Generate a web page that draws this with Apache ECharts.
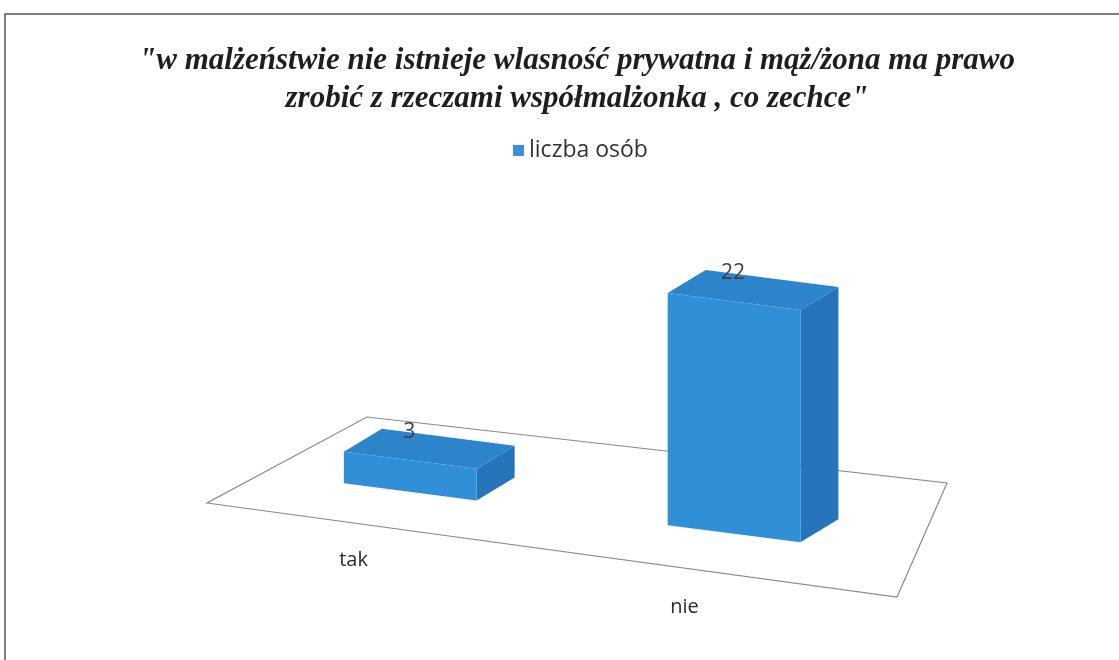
<!DOCTYPE html>
<html>
<head>
<meta charset="utf-8">
<script src="https://cdn.jsdelivr.net/npm/echarts@6/dist/echarts.min.js"></script>
<style>
  html, body { margin: 0; padding: 0; background: #fff; }
  #chart { width: 1119px; height: 660px; }
</style>
</head>
<body>
<div id="chart"></div>
<script>
// dane
const categories = ['tak', 'nie'];
const values = [3, 22];
const seriesName = 'liczba osób';

// podloga 3D (przod-lewo, przod-prawo, tyl-prawo, tyl-lewo)
const FL = [207, 503], FR = [897, 597], BR = [947, 483], BL = [367, 417];
const U0 = -0.0225, UW = 0.994;  // os x -> szerokosc podlogi
const DEPTH_V = 0.35;            // gdzie stoja slupki na podlodze
const BOX_D = [38, -23];         // glebokosc pudelka

function floorPt(u, v) {
    const fx = FL[0] + (FR[0] - FL[0]) * u, fy = FL[1] + (FR[1] - FL[1]) * u;
    const bx = BL[0] + (BR[0] - BL[0]) * u, by = BL[1] + (BR[1] - BL[1]) * u;
    return [fx + (bx - fx) * v, fy + (by - fy) * v];
}

const chart = echarts.init(document.getElementById('chart'));

function renderBox(params, api) {
    const cs = params.coordSys;
    const idx = api.value(0);
    const val = api.value(1);
    const uc = U0 + UW * (api.coord([idx, 0])[0] - cs.x) / cs.width;
    const hw = UW * api.size([1, 0])[0] / cs.width * 0.205;
    const h = api.size([0, val])[1];
    const b1 = floorPt(uc - hw, DEPTH_V), b2 = floorPt(uc + hw, DEPTH_V);
    const t1 = [b1[0], b1[1] - h], t2 = [b2[0], b2[1] - h];
    const add = (p) => [p[0] + BOX_D[0], p[1] + BOX_D[1]];
    const lab = floorPt(uc, 0);
    return {
        type: 'group',
        children: [
            { type: 'polygon', shape: { points: [b2, t2, add(t2), add(b2)] }, style: { fill: '#2675ba' } },
            { type: 'polygon', shape: { points: [t1, t2, add(t2), add(t1)] }, style: { fill: '#2c84cb' } },
            { type: 'polygon', shape: { points: [b1, b2, t2, t1] }, style: { fill: '#318fd7' } },
            {
                type: 'text',
                style: {
                    text: String(val), x: (t1[0] + t2[0]) / 2 - 1, y: (t1[1] + t2[1]) / 2 - 28,
                    align: 'center', verticalAlign: 'middle',
                    font: '21px "Open Sans", sans-serif', fill: '#404040'
                }
            },
            {
                type: 'text',
                style: {
                    text: categories[idx], x: lab[0] - (4 + 24 * uc), y: lab[1] + 36,
                    align: 'center', verticalAlign: 'middle',
                    font: '20px "Open Sans", sans-serif', fill: '#2a2a2a'
                }
            }
        ]
    };
}

const option = {
    backgroundColor: '#fff',
    animation: false,
    title: {
        text: '"w malżeństwie nie istnieje wlasność prywatna i mąż/żona ma prawo\nzrobić z rzeczami współmalżonka , co zechce"',
        left: 572,
        top: 37,
        textAlign: 'center',
        textStyle: {
            fontFamily: '"Liberation Serif", "DejaVu Serif", serif',
            fontStyle: 'italic', fontWeight: 'bold',
            fontSize: 31, lineHeight: 38, color: '#1e1e1e'
        }
    },
    legend: {
        top: 134, left: 508,
        itemWidth: 11, itemHeight: 11, icon: 'rect', itemGap: 6,
        textStyle: { fontFamily: '"Open Sans", sans-serif', fontSize: 23, color: '#333' },
        data: [{ name: seriesName, itemStyle: { color: '#3a8fd6' } }]
    },
    graphic: [
        {
            type: 'rect', z: -10,
            shape: { x: 5, y: 14, width: 1130, height: 700 },
            style: { fill: 'none', stroke: '#555', lineWidth: 1.5 }
        },
        {
            type: 'polygon', z: -5,
            shape: { points: [FL, FR, BR, BL] },
            style: { fill: '#fff', stroke: '#8a8a8a', lineWidth: 1.2 }
        }
    ],
    grid: { left: 0, right: 0, top: 100, height: 264 },
    xAxis: { type: 'category', data: categories, show: false },
    yAxis: { type: 'value', min: 0, max: 25, show: false },
    series: [{
        name: seriesName,
        type: 'custom',
        renderItem: renderBox,
        itemStyle: { color: '#3a8fd6' },
        data: values.map((v, i) => [i, v])
    }]
};

chart.setOption(option);
</script>
</body>
</html>
